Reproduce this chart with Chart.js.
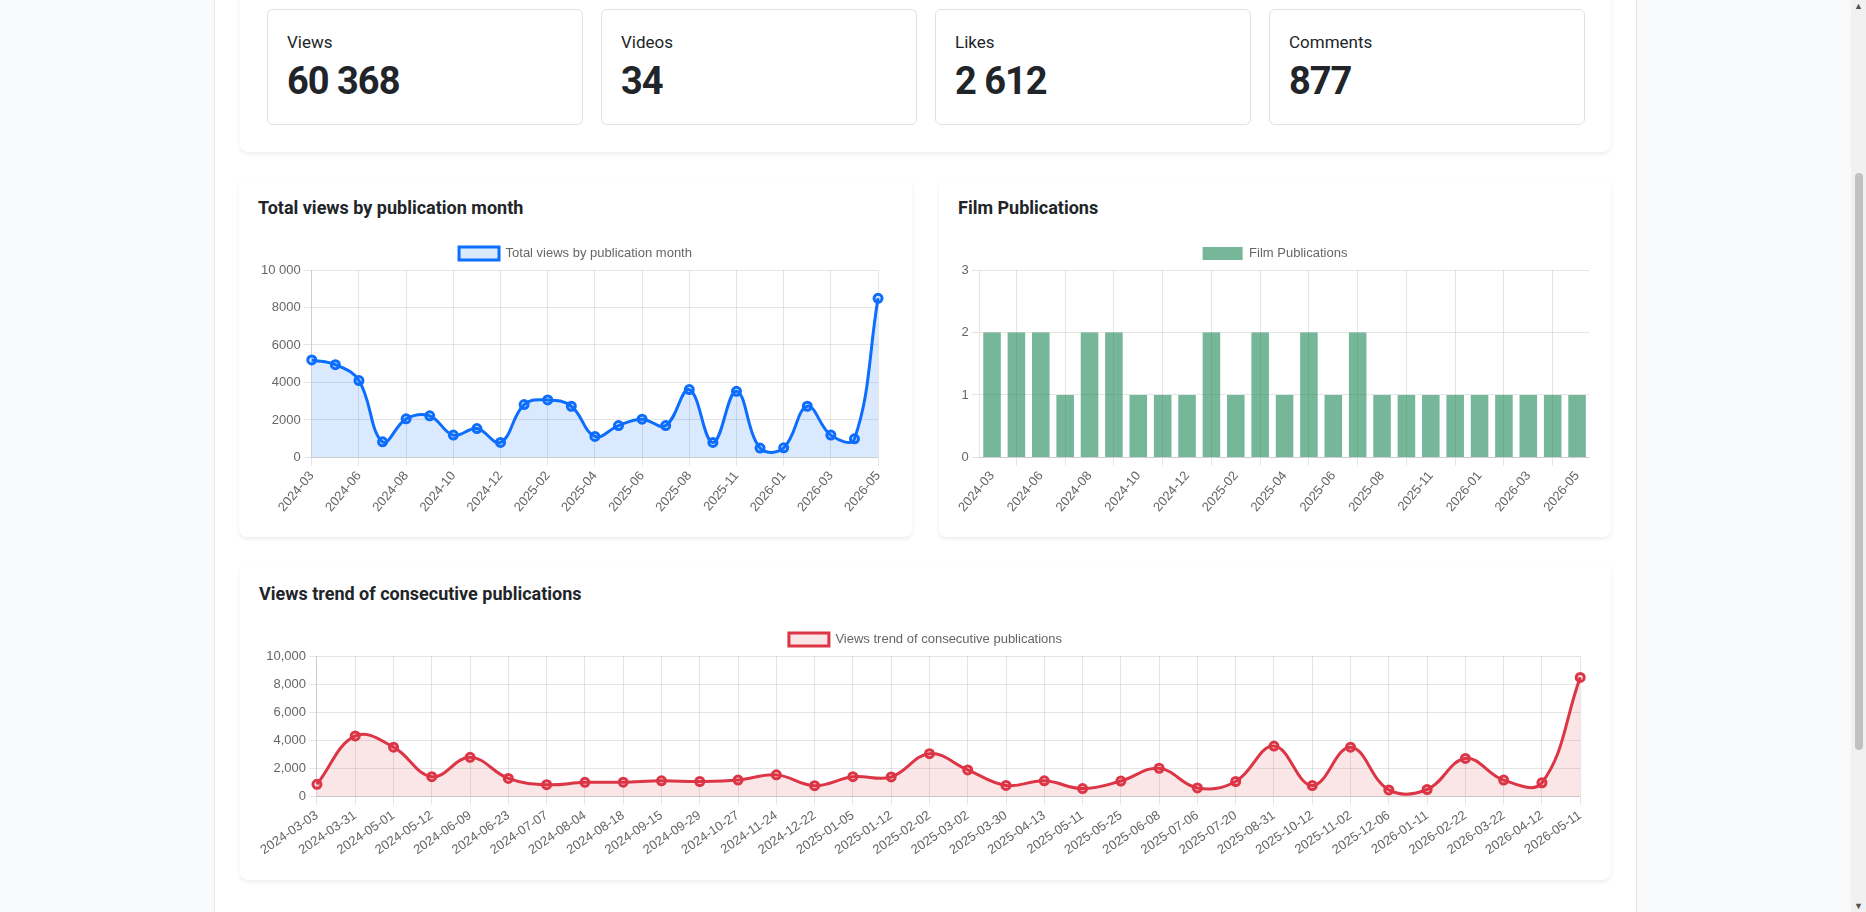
<!DOCTYPE html>
<html lang="en">
<head>
<meta charset="utf-8">
<title>Channel statistics</title>
<script src="https://cdn.jsdelivr.net/npm/chart.js@4.4.1/dist/chart.umd.min.js"></script>
<style>
    html, body {
        margin: 0;
        padding: 0;
        width: 1866px;
        height: 912px;
        overflow: hidden;
        background: #f8f9fa;
        font-family: Roboto, "Noto Sans", Arial, sans-serif;
        color: #212529;
    }
    .page {
        position: absolute;
        left: 214px;
        top: 0;
        width: 1423px;
        height: 912px;
        background: #fff;
        border-left: 1px solid #e4e6e9;
        border-right: 1px solid #e4e6e9;
        box-sizing: border-box;
    }
    .card {
        position: absolute;
        background: #fff;
        border-radius: 8px;
        box-shadow: 0 2px 4px rgba(0, 0, 0, 0.075);
        box-sizing: border-box;
    }
    .stats-card { left: 240px; top: -60px; width: 1371px; height: 212px; }
    .stats-row {
        position: absolute;
        left: 27px;
        right: 26px;
        bottom: 27px;
        height: 116px;
        display: flex;
        gap: 18px;
    }
    .stat {
        flex: 1;
        border: 1px solid #dee2e6;
        border-radius: 6px;
        padding: 22px 19px 0 19px;
    }
    .stat .label { font-size: 17px; line-height: 20px; }
    .stat .value {
        font-size: 38px;
        line-height: 46px;
        font-weight: 700;
        margin-top: 6px;
        letter-spacing: -1px;
    }
    .chart-card { padding: 19px; }
    .chart-card h5 {
        margin: 0;
        font-size: 18px;
        line-height: 21px;
        font-weight: 700;
    }
    .chart-box { position: relative; margin-top: 19px; }
    #card-month { left: 239px; top: 178px; width: 673px; height: 359px; }
    #card-films { left: 939px; top: 178px; width: 672px; height: 359px; }
    #card-trend { left: 240px; top: 564px; width: 1371px; height: 316px; }
    #card-month .chart-box, #card-films .chart-box { height: 281px; }
    #card-trend .chart-box { height: 238px; }

    /* imitation of the browser scrollbar */
    .scrollbar {
        position: absolute;
        left: 1851px;
        top: 0;
        width: 15px;
        height: 912px;
        background: #f1f1f1;
    }
    .scrollbar .thumb {
        position: absolute;
        left: 4px;
        top: 173px;
        width: 8px;
        height: 577px;
        background: #c1c1c1;
        border-radius: 4px;
    }
    .scrollbar .arrow {
        position: absolute;
        left: 0;
        width: 15px;
        text-align: center;
        font-size: 9px;
        color: #505050;
    }
</style>
</head>
<body>
<div class="page"></div>

<div class="card stats-card">
    <div class="stats-row">
        <div class="stat"><div class="label">Views</div><div class="value" id="stat-views"></div></div>
        <div class="stat"><div class="label">Videos</div><div class="value" id="stat-videos"></div></div>
        <div class="stat"><div class="label">Likes</div><div class="value" id="stat-likes"></div></div>
        <div class="stat"><div class="label">Comments</div><div class="value" id="stat-comments"></div></div>
    </div>
</div>

<div class="card chart-card" id="card-month">
    <h5>Total views by publication month</h5>
    <div class="chart-box"><canvas id="monthViewsChart"></canvas></div>
</div>

<div class="card chart-card" id="card-films">
    <h5>Film Publications</h5>
    <div class="chart-box"><canvas id="filmPublicationsChart"></canvas></div>
</div>

<div class="card chart-card" id="card-trend">
    <h5>Views trend of consecutive publications</h5>
    <div class="chart-box"><canvas id="viewsTrendChart"></canvas></div>
</div>

<div class="scrollbar">
    <div class="arrow" style="top:1px;">&#9650;</div>
    <div class="thumb"></div>
    <div class="arrow" style="bottom:1px;">&#9660;</div>
</div>

<script>
// Summary numbers for the top cards (already formatted like the dashboard shows them)
const statViews = '60 368';
const statVideos = '34';
const statLikes = '2 612';
const statComments = '877';

// Per month aggregates
const monthLabels = [
    '2024-03', '2024-05', '2024-06', '2024-07', '2024-08', '2024-09', '2024-10', '2024-11', '2024-12',
    '2025-01', '2025-02', '2025-03', '2025-04', '2025-05', '2025-06', '2025-07', '2025-08', '2025-10',
    '2025-11', '2025-12', '2026-01', '2026-02', '2026-03', '2026-04', '2026-05'
];
const monthViews = [
    5200, 4950, 4100, 830, 2060, 2220, 1190, 1540, 800,
    2820, 3070, 2730, 1120, 1700, 2040, 1700, 3620, 800,
    3530, 500, 510, 2730, 1190, 990, 8490
];
const monthVideos = [
    2, 2, 2, 1, 2, 2, 1, 1, 1,
    2, 1, 2, 1, 2, 1, 2, 1, 1,
    1, 1, 1, 1, 1, 1, 1
];

// One entry per published video
const videoDates = [
    '2024-03-03', '2024-03-31', '2024-05-01', '2024-05-12', '2024-06-09', '2024-06-23', '2024-07-07',
    '2024-08-04', '2024-08-18', '2024-09-15', '2024-09-29', '2024-10-27', '2024-11-24', '2024-12-22',
    '2025-01-05', '2025-01-12', '2025-02-02', '2025-03-02', '2025-03-30', '2025-04-13', '2025-05-11',
    '2025-05-25', '2025-06-08', '2025-07-06', '2025-07-20', '2025-08-31', '2025-10-12', '2025-11-02',
    '2025-12-06', '2026-01-11', '2026-02-22', '2026-03-22', '2026-04-12', '2026-05-11'
];
const videoViews = [
    880, 4320, 3520, 1420, 2800, 1300, 850,
    1020, 1030, 1130, 1080, 1180, 1550, 780,
    1420, 1400, 3060, 1900, 800, 1130, 580,
    1110, 2020, 620, 1080, 3600, 790, 3520,
    480, 510, 2720, 1180, 990, 8480
];

// Axis ranges
const viewsAxisMax = 10000;
const viewsAxisStep = 2000;
const filmsAxisMax = 3;
const filmsAxisStep = 1;

Chart.defaults.font.family = "'Liberation Sans', Arial, Helvetica, sans-serif";
Chart.defaults.font.size = 13;
Chart.defaults.color = '#666';

// "10 000" but "8000" - same as the polish number format
function formatSpaced(value) {
    if (value < 10000) return String(value);
    return String(value).replace(/\B(?=(\d{3})+(?!\d))/g, ' ');
}

function initMonthViewsChart(ctxId) {
    const ctx = document.getElementById(ctxId)?.getContext('2d');
    if (!ctx) return;
    new Chart(ctx, {
        type: 'line',
        data: {
            labels: monthLabels,
            datasets: [{
                label: 'Total views by publication month',
                data: monthViews,
                borderColor: '#0d6efd',
                backgroundColor: 'rgba(13, 110, 253, 0.15)',
                pointBackgroundColor: 'rgba(13, 110, 253, 0.15)',
                borderWidth: 3,
                fill: true,
                tension: 0.4,
                pointRadius: 4
            }]
        },
        options: {
            responsive: true,
            maintainAspectRatio: false,
            animation: false,
            scales: {
                y: {
                    beginAtZero: true,
                    max: viewsAxisMax,
                    ticks: { stepSize: viewsAxisStep, callback: formatSpaced }
                }
            },
            plugins: { legend: { display: true, position: 'top' } }
        }
    });
}

function initFilmPublicationsChart(ctxId) {
    const ctx = document.getElementById(ctxId)?.getContext('2d');
    if (!ctx) return;
    new Chart(ctx, {
        type: 'bar',
        data: {
            labels: monthLabels,
            datasets: [{
                label: 'Film Publications',
                data: monthVideos,
                backgroundColor: 'rgba(25, 135, 84, 0.6)'
            }]
        },
        options: {
            responsive: true,
            maintainAspectRatio: false,
            animation: false,
            scales: {
                x: {
                    ticks: { autoSkipPadding: 5 } // every other month label, like the line chart
                },
                y: {
                    beginAtZero: true,
                    max: filmsAxisMax,
                    ticks: { stepSize: filmsAxisStep }
                }
            },
            plugins: { legend: { display: true, position: 'top' } }
        }
    });
}

function initViewsTrendChart(ctxId) {
    const ctx = document.getElementById(ctxId)?.getContext('2d');
    if (!ctx) return;
    new Chart(ctx, {
        type: 'line',
        data: {
            labels: videoDates,
            datasets: [{
                label: 'Views trend of consecutive publications',
                data: videoViews,
                borderColor: '#dc3545',
                backgroundColor: 'rgba(220, 53, 69, 0.13)',
                pointBackgroundColor: 'rgba(220, 53, 69, 0.13)',
                borderWidth: 3,
                fill: true,
                tension: 0.4,
                pointRadius: 4
            }]
        },
        options: {
            responsive: true,
            maintainAspectRatio: false,
            animation: false,
            scales: {
                y: {
                    beginAtZero: true,
                    max: viewsAxisMax,
                    ticks: {
                        stepSize: viewsAxisStep,
                        callback: (v) => String(v).replace(/\B(?=(\d{3})+(?!\d))/g, ',')
                    }
                }
            },
            plugins: { legend: { display: true, position: 'top' } }
        }
    });
}

document.getElementById('stat-views').textContent = statViews;
document.getElementById('stat-videos').textContent = statVideos;
document.getElementById('stat-likes').textContent = statLikes;
document.getElementById('stat-comments').textContent = statComments;

initMonthViewsChart('monthViewsChart');
initFilmPublicationsChart('filmPublicationsChart');
initViewsTrendChart('viewsTrendChart');
</script>
</body>
</html>
